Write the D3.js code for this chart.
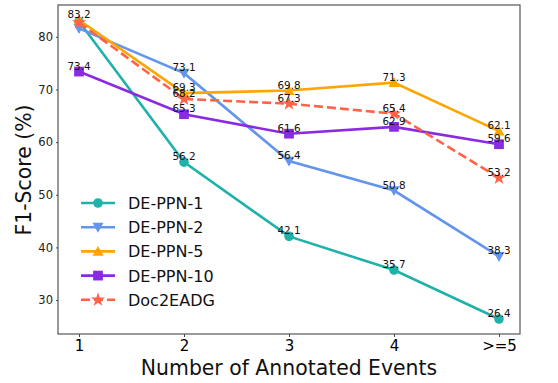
<!DOCTYPE html>
<html>
<head>
<meta charset="utf-8">
<script src="https://cdn.jsdelivr.net/npm/d3@7"></script>
<style>
  body { margin: 0; background: #fff; }
  svg { display: block; font-family: 'DejaVu Sans', sans-serif; }
</style>
</head>
<body>
<div id="vis"></div>
<script>
const FRAME_WIDTH = 558;
const FRAME_HEIGHT = 383;
const MARGINS = { left: 58, right: 38, top: 5, bottom: 49 };

// chart data
const categories = ['1', '2', '3', '4', '>=5'];
const dePpn1 = [82.9, 56.2, 42.1, 35.7, 26.4];
const dePpn2 = [81.6, 73.1, 56.4, 50.8, 38.3];
const dePpn5 = [83.2, 69.3, 69.8, 71.3, 62.1];
const dePpn10 = [73.4, 65.3, 61.6, 62.9, 59.6];
const doc2eadg = [82.7, 68.2, 67.3, 65.4, 53.2];
const yTicks = [30, 40, 50, 60, 70, 80];

const series = [
  { name: 'DE-PPN-1', values: dePpn1, color: '#20b2aa', symbol: 'circle', dashed: false, hideFirstLabel: true },
  { name: 'DE-PPN-2', values: dePpn2, color: '#6495ed', symbol: 'down', dashed: false, hideFirstLabel: true },
  { name: 'DE-PPN-5', values: dePpn5, color: '#ffa500', symbol: 'up', dashed: false, hideFirstLabel: false },
  { name: 'DE-PPN-10', values: dePpn10, color: '#8a2be2', symbol: 'square', dashed: false, hideFirstLabel: false },
  { name: 'Doc2EADG', values: doc2eadg, color: '#ff6347', symbol: 'star', dashed: true, hideFirstLabel: true }
];

const VIS_WIDTH = FRAME_WIDTH - MARGINS.left - MARGINS.right;
const VIS_HEIGHT = FRAME_HEIGHT - MARGINS.top - MARGINS.bottom;

const svg = d3.select('#vis')
  .append('svg')
  .attr('width', FRAME_WIDTH)
  .attr('height', FRAME_HEIGHT);

// matplotlib style padding: 0.2 on x, 5% on y
const X_SCALE = d3.scaleLinear()
  .domain([-0.2, categories.length - 0.8])
  .range([0, VIS_WIDTH]);

const allVals = series.flatMap((s) => s.values);
const yMin = d3.min(allVals);
const yMax = d3.max(allVals);
const pad = (yMax - yMin) * 0.05;
const Y_SCALE = d3.scaleLinear()
  .domain([yMin - pad, yMax + pad])
  .range([VIS_HEIGHT, 0]);

const plot = svg.append('g')
  .attr('transform', 'translate(' + MARGINS.left + ',' + MARGINS.top + ')');

// axes
const xAxis = plot.append('g')
  .attr('transform', 'translate(0,' + VIS_HEIGHT + ')')
  .call(d3.axisBottom(X_SCALE)
    .tickValues(d3.range(categories.length))
    .tickFormat((i) => categories[i])
    .tickSize(3)
    .tickPadding(3));
xAxis.select('.domain').remove();
xAxis.selectAll('text').attr('font-size', '15px').attr('fill', '#000')
  .attr('font-family', 'DejaVu Sans');
xAxis.selectAll('line').attr('stroke', '#444');

const yAxis = plot.append('g')
  .call(d3.axisLeft(Y_SCALE)
    .tickValues(yTicks)
    .tickSize(2)
    .tickPadding(3));
yAxis.select('.domain').remove();
yAxis.selectAll('text').attr('font-size', '11.5px').attr('fill', '#222')
  .attr('font-family', 'DejaVu Sans');
yAxis.selectAll('line').attr('stroke', '#444');

// frame
plot.append('rect')
  .attr('width', VIS_WIDTH)
  .attr('height', VIS_HEIGHT)
  .attr('fill', 'none')
  .attr('stroke', '#555')
  .attr('stroke-width', 1.2);

function symbolPath(type) {
  if (type === 'circle') return d3.symbol(d3.symbolCircle, 72)();
  if (type === 'square') return d3.symbol(d3.symbolSquare, 95)();
  if (type === 'star') return d3.symbol(d3.symbolStar, 62)();
  // triangles
  const s = 5.5;
  if (type === 'up') return `M0,${-s}L${s},${s * 0.8}L${-s},${s * 0.8}Z`;
  return `M0,${s}L${s},${-s * 0.8}L${-s},${-s * 0.8}Z`;
}

const line = d3.line()
  .x((d, i) => X_SCALE(i))
  .y((d) => Y_SCALE(d));

series.forEach((s) => {
  const g = plot.append('g');
  g.append('path')
    .datum(s.values)
    .attr('d', line)
    .attr('fill', 'none')
    .attr('stroke', s.color)
    .attr('stroke-width', 2.6)
    .attr('stroke-dasharray', s.dashed ? '9,4' : null);

  g.selectAll('.mark')
    .data(s.values)
    .enter()
    .append('path')
    .attr('class', 'mark')
    .attr('d', symbolPath(s.symbol))
    .attr('transform', (d, i) => `translate(${X_SCALE(i)},${Y_SCALE(d)})`)
    .attr('fill', s.color);
});

// value labels
series.forEach((s) => {
  plot.append('g')
    .selectAll('text')
    .data(s.values.map((v, i) => ({ v, i })).filter((d) => !(d.i === 0 && s.hideFirstLabel)))
    .enter()
    .append('text')
    .attr('x', (d) => X_SCALE(d.i))
    .attr('y', (d) => Y_SCALE(d.v) - 2)
    .attr('text-anchor', 'middle')
    .attr('font-size', '10.4px')
    .attr('fill', '#111')
    .text((d) => d.v.toFixed(1));
});

// legend
const legend = svg.append('g').attr('transform', 'translate(81,203)');
series.forEach((s, i) => {
  const row = legend.append('g').attr('transform', `translate(0,${i * 24.2})`);
  row.append('line')
    .attr('x1', 0).attr('x2', 34)
    .attr('stroke', s.color)
    .attr('stroke-width', 2.6)
    .attr('stroke-dasharray', s.dashed ? '9,4' : null);
  row.append('path')
    .attr('d', symbolPath(s.symbol))
    .attr('transform', 'translate(17,0)')
    .attr('fill', s.color);
  row.append('text')
    .attr('x', 47)
    .attr('y', 6)
    .attr('font-size', '16px')
    .attr('fill', '#111')
    .text(s.name);
});

// axis titles
svg.append('text')
  .attr('x', MARGINS.left + VIS_WIDTH / 2)
  .attr('y', 375)
  .attr('text-anchor', 'middle')
  .attr('font-size', '20.4px')
  .attr('fill', '#111')
  .text('Number of Annotated Events');

svg.append('text')
  .attr('transform', 'translate(31,170) rotate(-90)')
  .attr('text-anchor', 'middle')
  .attr('font-size', '20.4px')
  .attr('fill', '#111')
  .text('F1-Score (%)');
</script>
</body>
</html>
